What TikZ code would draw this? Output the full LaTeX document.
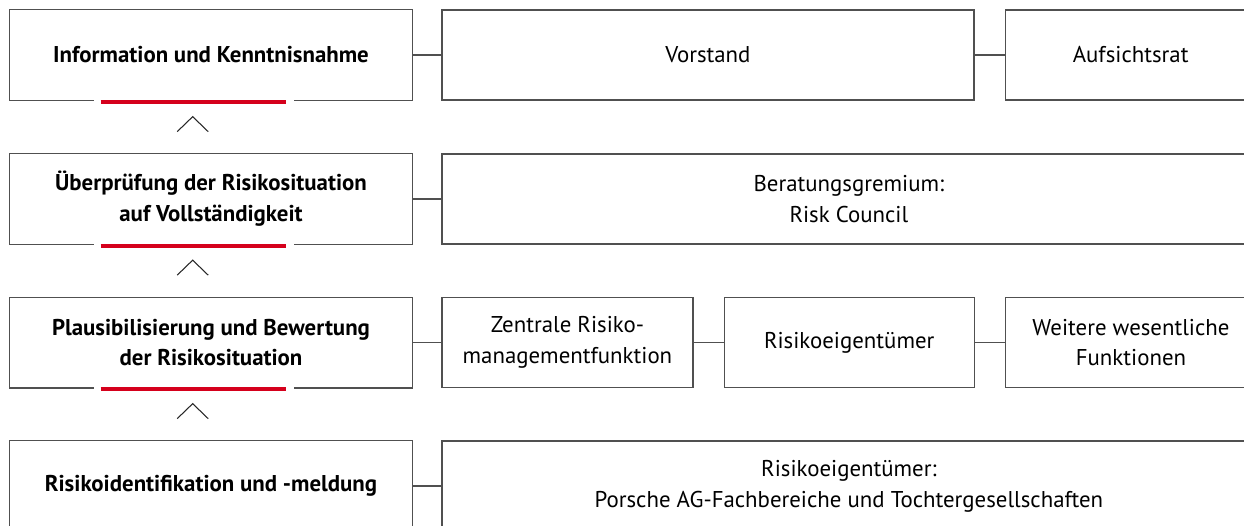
\documentclass[tikz,border=0pt]{standalone}
\usepackage{fontspec}
\setmainfont{PT Sans}
\usetikzlibrary{positioning, calc}
\definecolor{porschered}{RGB}{213,0,28}
\definecolor{boxline}{RGB}{80,80,80}

\begin{document}
\begin{tikzpicture}[x=0.02cm, y=-0.02cm,
    stage/.style={minimum width=8.04cm, minimum height=1.8cm, align=center, inner sep=0pt, font=\fontsize{13}{17.5}\selectfont\bfseries},
    unit/.style={draw=boxline, line width=0.75pt, minimum height=1.8cm, align=center, inner sep=0pt, font=\fontsize{13}{17.5}\selectfont},
    link/.style={draw=boxline, line width=0.75pt},
    redbar/.style={draw=porschered, line width=2.4pt},
    chevron/.style={draw=black!85, line width=0.6pt},
]
  \useasboundingbox (0,0) rectangle (1244,525);
  \clip (0,0) rectangle (1244,525);

  % process stages (left column)
  \node[stage] (s1) at (211,55)  {Information und Kenntnisnahme};
  \node[stage] (s2) at (211,199) {Überprüfung der Risikosituation\\auf Vollständigkeit};
  \node[stage] (s3) at (211,342.5) {Plausibilisierung und Bewertung\\der Risikosituation};
  \node[stage] (s4) at (211,486) {Risikoidentifikation und -meldung};

  % bodies (right side)
  \node[unit, minimum width=10.64cm, right=0.58cm of s1] (vorstand) {Vorstand};
  \node[unit, minimum width=5.02cm, right=0.6cm of vorstand] (aufsicht) {Aufsichtsrat};

  \node[unit, minimum width=16.28cm, right=0.58cm of s2] (council) {Beratungsgremium:\\Risk Council};

  \node[unit, minimum width=5.02cm, right=0.58cm of s3] (zentral) {Zentrale Risiko-\\managementfunktion};
  \node[unit, minimum width=5.0cm, right=0.6cm of zentral] (eigner) {Risikoeigentümer};
  \node[unit, minimum width=5.02cm, right=0.6cm of eigner] (weitere) {Weitere wesentliche\\Funktionen};

  \node[unit, minimum width=16.28cm, right=0.58cm of s4] (fachber) {Risikoeigentümer:\\Porsche AG-Fachbereiche und Tochtergesellschaften};

  % stage outlines, open below for the red bar
  \foreach \n in {s1,s2,s3,s4}
    \draw[link] ([xshift=1.68cm]\n.south west) -- (\n.south west) -- (\n.north west)
        -- (\n.north east) -- (\n.south east) -- ([xshift=-2.36cm]\n.south east);
  \foreach \n in {s1,s2,s3}
    \draw[redbar] ([xshift=1.82cm, yshift=-0.03cm]\n.south west) -- ([xshift=-2.52cm, yshift=-0.03cm]\n.south east);

  % upward chevrons
  \foreach \n in {s2,s3,s4}
    \draw[chevron] ($(\n.north west)+(167.5,-22)$) -- ($(\n.north west)+(183,-37)$) -- ($(\n.north west)+(198.5,-22)$);

  \draw[link] (s1.east) -- (vorstand.west);
  \draw[link] (vorstand.east) -- (aufsicht.west);
  \draw[link] (s2.east) -- (council.west);
  \draw[link] (s3.east) -- (zentral.west);
  \draw[link] (zentral.east) -- (eigner.west);
  \draw[link] (eigner.east) -- (weitere.west);
  \draw[link] (s4.east) -- (fachber.west);
\end{tikzpicture}
\end{document}
